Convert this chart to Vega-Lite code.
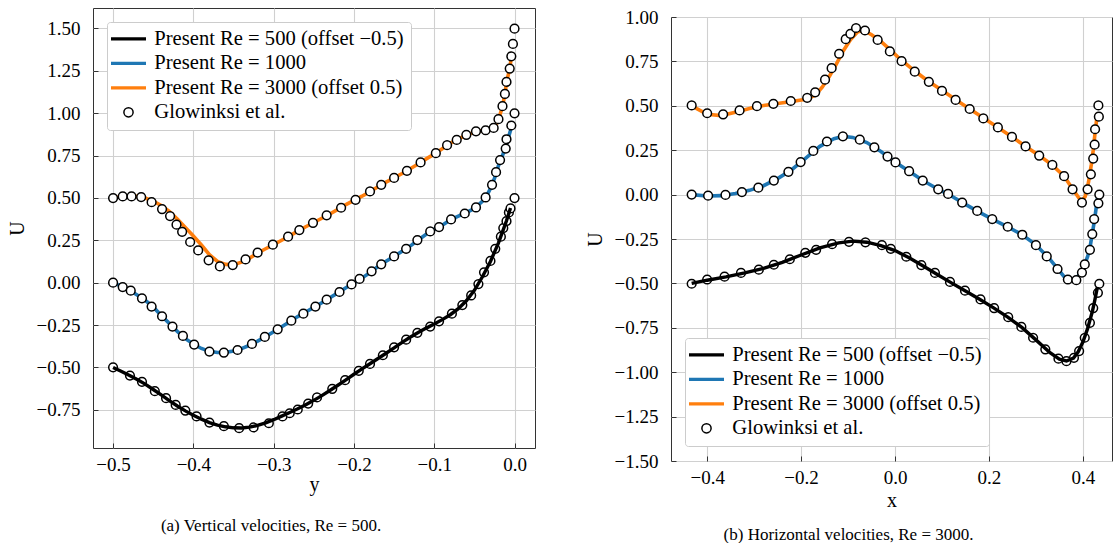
{
"$schema":"https://vega.github.io/schema/vega-lite/v6.json",
"background":"white",
"padding":{"left":6,"top":7,"right":0,"bottom":0},
"spacing":48,
"datasets":{
"L":[
{"s":"A","x":-0.5,"u":-0.5},{"s":"A","x":-0.49,"u":-0.522},{"s":"A","x":-0.48,"u":-0.546},{"s":"A","x":-0.47,"u":-0.571},{"s":"A","x":-0.46,"u":-0.598},{"s":"A","x":-0.45,"u":-0.63},{"s":"A","x":-0.44,"u":-0.662},{"s":"A","x":-0.43,"u":-0.695},{"s":"A","x":-0.42,"u":-0.727},{"s":"A","x":-0.41,"u":-0.756},{"s":"A","x":-0.4,"u":-0.782},{"s":"A","x":-0.39,"u":-0.805},{"s":"A","x":-0.38,"u":-0.825},{"s":"A","x":-0.37,"u":-0.84},{"s":"A","x":-0.36,"u":-0.85},{"s":"A","x":-0.35,"u":-0.856},{"s":"A","x":-0.34,"u":-0.857},{"s":"A","x":-0.33,"u":-0.852},{"s":"A","x":-0.32,"u":-0.842},{"s":"A","x":-0.31,"u":-0.827},{"s":"A","x":-0.3,"u":-0.808},{"s":"A","x":-0.29,"u":-0.787},{"s":"A","x":-0.28,"u":-0.766},{"s":"A","x":-0.27,"u":-0.744},{"s":"A","x":-0.26,"u":-0.72},{"s":"A","x":-0.25,"u":-0.694},{"s":"A","x":-0.24,"u":-0.666},{"s":"A","x":-0.23,"u":-0.636},{"s":"A","x":-0.22,"u":-0.605},{"s":"A","x":-0.21,"u":-0.573},{"s":"A","x":-0.2,"u":-0.54},{"s":"A","x":-0.19,"u":-0.508},{"s":"A","x":-0.18,"u":-0.478},{"s":"A","x":-0.17,"u":-0.447},{"s":"A","x":-0.16,"u":-0.416},{"s":"A","x":-0.15,"u":-0.385},{"s":"A","x":-0.14,"u":-0.352},{"s":"A","x":-0.13,"u":-0.322},{"s":"A","x":-0.12,"u":-0.294},{"s":"A","x":-0.11,"u":-0.268},{"s":"A","x":-0.1,"u":-0.244},{"s":"A","x":-0.09,"u":-0.218},{"s":"A","x":-0.08,"u":-0.189},{"s":"A","x":-0.07,"u":-0.153},{"s":"A","x":-0.06,"u":-0.107},{"s":"A","x":-0.05,"u":-0.045},{"s":"A","x":-0.04,"u":0.035},{"s":"A","x":-0.03,"u":0.125},{"s":"A","x":-0.02,"u":0.235},{"s":"A","x":-0.015,"u":0.3},{"s":"A","x":-0.01,"u":0.365},{"s":"A","x":-0.005,"u":0.44},
{"s":"B","x":-0.5,"u":0.0},{"s":"B","x":-0.49,"u":-0.02},{"s":"B","x":-0.48,"u":-0.043},{"s":"B","x":-0.47,"u":-0.072},{"s":"B","x":-0.46,"u":-0.104},{"s":"B","x":-0.45,"u":-0.143},{"s":"B","x":-0.44,"u":-0.194},{"s":"B","x":-0.43,"u":-0.24},{"s":"B","x":-0.42,"u":-0.287},{"s":"B","x":-0.41,"u":-0.33},{"s":"B","x":-0.4,"u":-0.362},{"s":"B","x":-0.39,"u":-0.388},{"s":"B","x":-0.38,"u":-0.405},{"s":"B","x":-0.37,"u":-0.412},{"s":"B","x":-0.36,"u":-0.411},{"s":"B","x":-0.35,"u":-0.403},{"s":"B","x":-0.34,"u":-0.389},{"s":"B","x":-0.33,"u":-0.369},{"s":"B","x":-0.32,"u":-0.345},{"s":"B","x":-0.31,"u":-0.318},{"s":"B","x":-0.3,"u":-0.289},{"s":"B","x":-0.29,"u":-0.26},{"s":"B","x":-0.28,"u":-0.23},{"s":"B","x":-0.27,"u":-0.2},{"s":"B","x":-0.26,"u":-0.173},{"s":"B","x":-0.25,"u":-0.146},{"s":"B","x":-0.24,"u":-0.118},{"s":"B","x":-0.23,"u":-0.089},{"s":"B","x":-0.22,"u":-0.06},{"s":"B","x":-0.21,"u":-0.03},{"s":"B","x":-0.2,"u":-0.002},{"s":"B","x":-0.19,"u":0.027},{"s":"B","x":-0.18,"u":0.06},{"s":"B","x":-0.17,"u":0.095},{"s":"B","x":-0.16,"u":0.126},{"s":"B","x":-0.15,"u":0.155},{"s":"B","x":-0.14,"u":0.185},{"s":"B","x":-0.13,"u":0.216},{"s":"B","x":-0.12,"u":0.252},{"s":"B","x":-0.11,"u":0.286},{"s":"B","x":-0.1,"u":0.315},{"s":"B","x":-0.09,"u":0.339},{"s":"B","x":-0.08,"u":0.37},{"s":"B","x":-0.07,"u":0.392},{"s":"B","x":-0.06,"u":0.413},{"s":"B","x":-0.05,"u":0.438},{"s":"B","x":-0.04,"u":0.48},{"s":"B","x":-0.035,"u":0.51},{"s":"B","x":-0.03,"u":0.555},{"s":"B","x":-0.025,"u":0.615},{"s":"B","x":-0.02,"u":0.69},{"s":"B","x":-0.015,"u":0.75},{"s":"B","x":-0.011,"u":0.8},{"s":"B","x":-0.008,"u":0.85},{"s":"B","x":-0.003,"u":0.93},
{"s":"C","x":-0.5,"u":0.5},{"s":"C","x":-0.49,"u":0.507},{"s":"C","x":-0.48,"u":0.511},{"s":"C","x":-0.47,"u":0.509},{"s":"C","x":-0.46,"u":0.499},{"s":"C","x":-0.45,"u":0.481},{"s":"C","x":-0.44,"u":0.455},{"s":"C","x":-0.43,"u":0.42},{"s":"C","x":-0.42,"u":0.375},{"s":"C","x":-0.41,"u":0.326},{"s":"C","x":-0.4,"u":0.275},{"s":"C","x":-0.39,"u":0.222},{"s":"C","x":-0.38,"u":0.165},{"s":"C","x":-0.37,"u":0.125},{"s":"C","x":-0.36,"u":0.108},{"s":"C","x":-0.35,"u":0.106},{"s":"C","x":-0.34,"u":0.121},{"s":"C","x":-0.33,"u":0.145},{"s":"C","x":-0.32,"u":0.175},{"s":"C","x":-0.31,"u":0.2},{"s":"C","x":-0.3,"u":0.224},{"s":"C","x":-0.29,"u":0.25},{"s":"C","x":-0.28,"u":0.276},{"s":"C","x":-0.27,"u":0.304},{"s":"C","x":-0.26,"u":0.33},{"s":"C","x":-0.25,"u":0.355},{"s":"C","x":-0.24,"u":0.38},{"s":"C","x":-0.23,"u":0.405},{"s":"C","x":-0.22,"u":0.432},{"s":"C","x":-0.21,"u":0.46},{"s":"C","x":-0.2,"u":0.485},{"s":"C","x":-0.19,"u":0.51},{"s":"C","x":-0.18,"u":0.537},{"s":"C","x":-0.17,"u":0.566},{"s":"C","x":-0.16,"u":0.593},{"s":"C","x":-0.15,"u":0.618},{"s":"C","x":-0.14,"u":0.644},{"s":"C","x":-0.13,"u":0.672},{"s":"C","x":-0.12,"u":0.7},{"s":"C","x":-0.11,"u":0.73},{"s":"C","x":-0.1,"u":0.758},{"s":"C","x":-0.09,"u":0.79},{"s":"C","x":-0.08,"u":0.822},{"s":"C","x":-0.07,"u":0.848},{"s":"C","x":-0.06,"u":0.87},{"s":"C","x":-0.05,"u":0.888},{"s":"C","x":-0.04,"u":0.898},{"s":"C","x":-0.03,"u":0.905},{"s":"C","x":-0.025,"u":0.915},{"s":"C","x":-0.02,"u":0.96},{"s":"C","x":-0.015,"u":1.04},{"s":"C","x":-0.012,"u":1.11},{"s":"C","x":-0.01,"u":1.18},{"s":"C","x":-0.006,"u":1.263},{"s":"C","x":-0.003,"u":1.36},
{"s":"G","x":-0.5,"u":0.499},{"s":"G","x":-0.488,"u":0.509},{"s":"G","x":-0.477,"u":0.509},{"s":"G","x":-0.465,"u":0.505},{"s":"G","x":-0.452,"u":0.475},{"s":"G","x":-0.439,"u":0.434},{"s":"G","x":-0.429,"u":0.393},{"s":"G","x":-0.421,"u":0.342},{"s":"G","x":-0.414,"u":0.3},{"s":"G","x":-0.404,"u":0.24},{"s":"G","x":-0.394,"u":0.19},{"s":"G","x":-0.381,"u":0.132},{"s":"G","x":-0.367,"u":0.096},{"s":"G","x":-0.351,"u":0.104},{"s":"G","x":-0.335,"u":0.137},{"s":"G","x":-0.32,"u":0.177},{"s":"G","x":-0.301,"u":0.224},{"s":"G","x":-0.282,"u":0.271},{"s":"G","x":-0.268,"u":0.31},{"s":"G","x":-0.251,"u":0.353},{"s":"G","x":-0.234,"u":0.397},{"s":"G","x":-0.216,"u":0.442},{"s":"G","x":-0.198,"u":0.489},{"s":"G","x":-0.18,"u":0.538},{"s":"G","x":-0.166,"u":0.577},{"s":"G","x":-0.15,"u":0.618},{"s":"G","x":-0.134,"u":0.66},{"s":"G","x":-0.117,"u":0.709},{"s":"G","x":-0.098,"u":0.764},{"s":"G","x":-0.084,"u":0.811},{"s":"G","x":-0.072,"u":0.842},{"s":"G","x":-0.06,"u":0.872},{"s":"G","x":-0.048,"u":0.893},{"s":"G","x":-0.036,"u":0.899},{"s":"G","x":-0.026,"u":0.913},{"s":"G","x":-0.02,"u":0.964},{"s":"G","x":-0.015,"u":1.041},{"s":"G","x":-0.012,"u":1.113},{"s":"G","x":-0.01,"u":1.184},{"s":"G","x":-0.006,"u":1.263},{"s":"G","x":-0.004,"u":1.335},{"s":"G","x":-0.002,"u":1.408},{"s":"G","x":0.0,"u":1.498},
{"s":"G","x":-0.5,"u":0.0},{"s":"G","x":-0.488,"u":-0.026},{"s":"G","x":-0.478,"u":-0.047},{"s":"G","x":-0.464,"u":-0.092},{"s":"G","x":-0.452,"u":-0.141},{"s":"G","x":-0.439,"u":-0.198},{"s":"G","x":-0.426,"u":-0.259},{"s":"G","x":-0.413,"u":-0.314},{"s":"G","x":-0.399,"u":-0.365},{"s":"G","x":-0.38,"u":-0.406},{"s":"G","x":-0.362,"u":-0.412},{"s":"G","x":-0.345,"u":-0.397},{"s":"G","x":-0.327,"u":-0.361},{"s":"G","x":-0.311,"u":-0.32},{"s":"G","x":-0.295,"u":-0.275},{"s":"G","x":-0.278,"u":-0.224},{"s":"G","x":-0.263,"u":-0.183},{"s":"G","x":-0.248,"u":-0.141},{"s":"G","x":-0.234,"u":-0.1},{"s":"G","x":-0.218,"u":-0.055},{"s":"G","x":-0.203,"u":-0.01},{"s":"G","x":-0.193,"u":0.022},{"s":"G","x":-0.178,"u":0.067},{"s":"G","x":-0.166,"u":0.108},{"s":"G","x":-0.15,"u":0.155},{"s":"G","x":-0.135,"u":0.2},{"s":"G","x":-0.121,"u":0.251},{"s":"G","x":-0.105,"u":0.302},{"s":"G","x":-0.094,"u":0.328},{"s":"G","x":-0.079,"u":0.373},{"s":"G","x":-0.062,"u":0.408},{"s":"G","x":-0.048,"u":0.444},{"s":"G","x":-0.036,"u":0.503},{"s":"G","x":-0.028,"u":0.577},{"s":"G","x":-0.023,"u":0.652},{"s":"G","x":-0.018,"u":0.723},{"s":"G","x":-0.011,"u":0.791},{"s":"G","x":-0.01,"u":0.846},{"s":"G","x":-0.004,"u":0.927},{"s":"G","x":0.0,"u":0.999},
{"s":"G","x":-0.5,"u":-0.499},{"s":"G","x":-0.479,"u":-0.548},{"s":"G","x":-0.464,"u":-0.585},{"s":"G","x":-0.448,"u":-0.64},{"s":"G","x":-0.434,"u":-0.681},{"s":"G","x":-0.422,"u":-0.721},{"s":"G","x":-0.41,"u":-0.754},{"s":"G","x":-0.396,"u":-0.789},{"s":"G","x":-0.38,"u":-0.825},{"s":"G","x":-0.362,"u":-0.846},{"s":"G","x":-0.343,"u":-0.858},{"s":"G","x":-0.325,"u":-0.854},{"s":"G","x":-0.306,"u":-0.829},{"s":"G","x":-0.289,"u":-0.789},{"s":"G","x":-0.28,"u":-0.77},{"s":"G","x":-0.27,"u":-0.748},{"s":"G","x":-0.257,"u":-0.713},{"s":"G","x":-0.246,"u":-0.677},{"s":"G","x":-0.227,"u":-0.626},{"s":"G","x":-0.211,"u":-0.575},{"s":"G","x":-0.194,"u":-0.52},{"s":"G","x":-0.18,"u":-0.479},{"s":"G","x":-0.164,"u":-0.428},{"s":"G","x":-0.15,"u":-0.381},{"s":"G","x":-0.135,"u":-0.336},{"s":"G","x":-0.121,"u":-0.296},{"s":"G","x":-0.105,"u":-0.259},{"s":"G","x":-0.094,"u":-0.228},{"s":"G","x":-0.078,"u":-0.183},{"s":"G","x":-0.065,"u":-0.132},{"s":"G","x":-0.054,"u":-0.075},{"s":"G","x":-0.045,"u":-0.008},{"s":"G","x":-0.038,"u":0.061},{"s":"G","x":-0.03,"u":0.128},{"s":"G","x":-0.024,"u":0.2},{"s":"G","x":-0.017,"u":0.271},{"s":"G","x":-0.014,"u":0.322},{"s":"G","x":-0.01,"u":0.363},{"s":"G","x":-0.007,"u":0.414},{"s":"G","x":-0.005,"u":0.438},{"s":"G","x":0.0,"u":0.499}
],
"R":[
{"s":"A","x":-0.433,"u":-0.5},{"s":"A","x":-0.4,"u":-0.482},{"s":"A","x":-0.36,"u":-0.463},{"s":"A","x":-0.32,"u":-0.441},{"s":"A","x":-0.28,"u":-0.416},{"s":"A","x":-0.24,"u":-0.382},{"s":"A","x":-0.2,"u":-0.34},{"s":"A","x":-0.16,"u":-0.3},{"s":"A","x":-0.12,"u":-0.272},{"s":"A","x":-0.09,"u":-0.262},{"s":"A","x":-0.06,"u":-0.268},{"s":"A","x":-0.03,"u":-0.287},{"s":"A","x":0.0,"u":-0.315},{"s":"A","x":0.03,"u":-0.356},{"s":"A","x":0.06,"u":-0.402},{"s":"A","x":0.09,"u":-0.45},{"s":"A","x":0.12,"u":-0.497},{"s":"A","x":0.15,"u":-0.543},{"s":"A","x":0.18,"u":-0.589},{"s":"A","x":0.21,"u":-0.638},{"s":"A","x":0.24,"u":-0.69},{"s":"A","x":0.27,"u":-0.748},{"s":"A","x":0.3,"u":-0.818},{"s":"A","x":0.33,"u":-0.89},{"s":"A","x":0.35,"u":-0.927},{"s":"A","x":0.365,"u":-0.937},{"s":"A","x":0.38,"u":-0.92},{"s":"A","x":0.39,"u":-0.885},{"s":"A","x":0.4,"u":-0.83},{"s":"A","x":0.41,"u":-0.755},{"s":"A","x":0.42,"u":-0.66},{"s":"A","x":0.425,"u":-0.6},{"s":"A","x":0.431,"u":-0.52},
{"s":"B","x":-0.433,"u":0.0},{"s":"B","x":-0.4,"u":-0.008},{"s":"B","x":-0.37,"u":-0.006},{"s":"B","x":-0.34,"u":0.006},{"s":"B","x":-0.31,"u":0.024},{"s":"B","x":-0.28,"u":0.05},{"s":"B","x":-0.25,"u":0.09},{"s":"B","x":-0.22,"u":0.14},{"s":"B","x":-0.19,"u":0.206},{"s":"B","x":-0.16,"u":0.272},{"s":"B","x":-0.13,"u":0.315},{"s":"B","x":-0.11,"u":0.328},{"s":"B","x":-0.09,"u":0.322},{"s":"B","x":-0.06,"u":0.293},{"s":"B","x":-0.03,"u":0.243},{"s":"B","x":0.0,"u":0.184},{"s":"B","x":0.03,"u":0.131},{"s":"B","x":0.06,"u":0.078},{"s":"B","x":0.09,"u":0.033},{"s":"B","x":0.12,"u":-0.008},{"s":"B","x":0.15,"u":-0.055},{"s":"B","x":0.18,"u":-0.1},{"s":"B","x":0.21,"u":-0.142},{"s":"B","x":0.24,"u":-0.182},{"s":"B","x":0.27,"u":-0.225},{"s":"B","x":0.3,"u":-0.283},{"s":"B","x":0.33,"u":-0.365},{"s":"B","x":0.35,"u":-0.43},{"s":"B","x":0.36,"u":-0.462},{"s":"B","x":0.37,"u":-0.48},{"s":"B","x":0.38,"u":-0.478},{"s":"B","x":0.39,"u":-0.458},{"s":"B","x":0.4,"u":-0.42},{"s":"B","x":0.41,"u":-0.35},{"s":"B","x":0.415,"u":-0.3},{"s":"B","x":0.42,"u":-0.22},{"s":"B","x":0.425,"u":-0.14},{"s":"B","x":0.431,"u":-0.02},
{"s":"C","x":-0.433,"u":0.5},{"s":"C","x":-0.4,"u":0.452},{"s":"C","x":-0.37,"u":0.445},{"s":"C","x":-0.34,"u":0.463},{"s":"C","x":-0.31,"u":0.485},{"s":"C","x":-0.28,"u":0.502},{"s":"C","x":-0.25,"u":0.513},{"s":"C","x":-0.22,"u":0.524},{"s":"C","x":-0.19,"u":0.537},{"s":"C","x":-0.17,"u":0.56},{"s":"C","x":-0.155,"u":0.605},{"s":"C","x":-0.14,"u":0.665},{"s":"C","x":-0.125,"u":0.735},{"s":"C","x":-0.11,"u":0.81},{"s":"C","x":-0.095,"u":0.872},{"s":"C","x":-0.08,"u":0.915},{"s":"C","x":-0.067,"u":0.926},{"s":"C","x":-0.05,"u":0.9},{"s":"C","x":-0.03,"u":0.862},{"s":"C","x":-0.01,"u":0.815},{"s":"C","x":0.01,"u":0.765},{"s":"C","x":0.04,"u":0.7},{"s":"C","x":0.07,"u":0.64},{"s":"C","x":0.1,"u":0.587},{"s":"C","x":0.13,"u":0.533},{"s":"C","x":0.16,"u":0.48},{"s":"C","x":0.19,"u":0.428},{"s":"C","x":0.22,"u":0.376},{"s":"C","x":0.25,"u":0.323},{"s":"C","x":0.28,"u":0.268},{"s":"C","x":0.31,"u":0.214},{"s":"C","x":0.335,"u":0.166},{"s":"C","x":0.36,"u":0.104},{"s":"C","x":0.38,"u":0.025},{"s":"C","x":0.397,"u":-0.04},{"s":"C","x":0.405,"u":-0.01},{"s":"C","x":0.412,"u":0.07},{"s":"C","x":0.418,"u":0.17},{"s":"C","x":0.422,"u":0.25},{"s":"C","x":0.426,"u":0.35},{"s":"C","x":0.431,"u":0.46},
{"s":"G","x":-0.433,"u":0.502},{"s":"G","x":-0.4,"u":0.458},{"s":"G","x":-0.366,"u":0.452},{"s":"G","x":-0.331,"u":0.474},{"s":"G","x":-0.294,"u":0.498},{"s":"G","x":-0.259,"u":0.511},{"s":"G","x":-0.222,"u":0.527},{"s":"G","x":-0.187,"u":0.545},{"s":"G","x":-0.17,"u":0.576},{"s":"G","x":-0.149,"u":0.647},{"s":"G","x":-0.135,"u":0.712},{"s":"G","x":-0.119,"u":0.793},{"s":"G","x":-0.105,"u":0.875},{"s":"G","x":-0.095,"u":0.905},{"s":"G","x":-0.083,"u":0.938},{"s":"G","x":-0.064,"u":0.924},{"s":"G","x":-0.037,"u":0.871},{"s":"G","x":-0.011,"u":0.806},{"s":"G","x":0.014,"u":0.751},{"s":"G","x":0.042,"u":0.692},{"s":"G","x":0.072,"u":0.635},{"s":"G","x":0.1,"u":0.584},{"s":"G","x":0.129,"u":0.533},{"s":"G","x":0.159,"u":0.482},{"s":"G","x":0.188,"u":0.429},{"s":"G","x":0.219,"u":0.378},{"s":"G","x":0.249,"u":0.325},{"s":"G","x":0.278,"u":0.271},{"s":"G","x":0.307,"u":0.22},{"s":"G","x":0.335,"u":0.167},{"s":"G","x":0.36,"u":0.104},{"s":"G","x":0.378,"u":0.03},{"s":"G","x":0.398,"u":-0.045},{"s":"G","x":0.41,"u":0.03},{"s":"G","x":0.417,"u":0.114},{"s":"G","x":0.422,"u":0.203},{"s":"G","x":0.425,"u":0.281},{"s":"G","x":0.426,"u":0.368},{"s":"G","x":0.434,"u":0.439},{"s":"G","x":0.433,"u":0.502},
{"s":"G","x":-0.433,"u":0.0},{"s":"G","x":-0.398,"u":-0.006},{"s":"G","x":-0.361,"u":-0.002},{"s":"G","x":-0.326,"u":0.014},{"s":"G","x":-0.291,"u":0.039},{"s":"G","x":-0.258,"u":0.079},{"s":"G","x":-0.227,"u":0.128},{"s":"G","x":-0.201,"u":0.183},{"s":"G","x":-0.174,"u":0.246},{"s":"G","x":-0.145,"u":0.299},{"s":"G","x":-0.111,"u":0.328},{"s":"G","x":-0.075,"u":0.309},{"s":"G","x":-0.044,"u":0.266},{"s":"G","x":-0.016,"u":0.214},{"s":"G","x":0.001,"u":0.181},{"s":"G","x":0.03,"u":0.132},{"s":"G","x":0.059,"u":0.079},{"s":"G","x":0.092,"u":0.03},{"s":"G","x":0.113,"u":0.004},{"s":"G","x":0.143,"u":-0.045},{"s":"G","x":0.175,"u":-0.092},{"s":"G","x":0.207,"u":-0.138},{"s":"G","x":0.24,"u":-0.181},{"s":"G","x":0.271,"u":-0.226},{"s":"G","x":0.3,"u":-0.285},{"s":"G","x":0.323,"u":-0.348},{"s":"G","x":0.346,"u":-0.419},{"s":"G","x":0.368,"u":-0.478},{"s":"G","x":0.386,"u":-0.482},{"s":"G","x":0.398,"u":-0.439},{"s":"G","x":0.404,"u":-0.393},{"s":"G","x":0.415,"u":-0.311},{"s":"G","x":0.42,"u":-0.222},{"s":"G","x":0.424,"u":-0.138},{"s":"G","x":0.433,"u":-0.049},{"s":"G","x":0.435,"u":0.0},
{"s":"G","x":-0.433,"u":-0.502},{"s":"G","x":-0.4,"u":-0.478},{"s":"G","x":-0.363,"u":-0.462},{"s":"G","x":-0.328,"u":-0.441},{"s":"G","x":-0.29,"u":-0.423},{"s":"G","x":-0.258,"u":-0.395},{"s":"G","x":-0.224,"u":-0.364},{"s":"G","x":-0.191,"u":-0.328},{"s":"G","x":-0.168,"u":-0.311},{"s":"G","x":-0.134,"u":-0.279},{"s":"G","x":-0.098,"u":-0.266},{"s":"G","x":-0.063,"u":-0.269},{"s":"G","x":-0.028,"u":-0.285},{"s":"G","x":-0.009,"u":-0.305},{"s":"G","x":0.024,"u":-0.35},{"s":"G","x":0.056,"u":-0.397},{"s":"G","x":0.085,"u":-0.441},{"s":"G","x":0.117,"u":-0.492},{"s":"G","x":0.149,"u":-0.541},{"s":"G","x":0.182,"u":-0.59},{"s":"G","x":0.211,"u":-0.639},{"s":"G","x":0.241,"u":-0.69},{"s":"G","x":0.269,"u":-0.745},{"s":"G","x":0.294,"u":-0.806},{"s":"G","x":0.32,"u":-0.871},{"s":"G","x":0.348,"u":-0.924},{"s":"G","x":0.365,"u":-0.938},{"s":"G","x":0.381,"u":-0.919},{"s":"G","x":0.392,"u":-0.881},{"s":"G","x":0.404,"u":-0.806},{"s":"G","x":0.415,"u":-0.722},{"s":"G","x":0.422,"u":-0.639},{"s":"G","x":0.432,"u":-0.553},{"s":"G","x":0.435,"u":-0.502}
]
},
"hconcat":[
{
"width":442,"height":440,
"data":{"name":"L"},
"title":{"text":"(a) Vertical velocities, Re = 500.","orient":"bottom","frame":"bounds","anchor":"middle","offset":24},
"encoding":{
"x":{"field":"x","type":"quantitative","scale":{"domain":[-0.525,0.0255],"nice":false,"zero":false},"axis":{"values":[-0.5,-0.4,-0.3,-0.2,-0.1,0.0],"format":".1f","title":"y","titlePadding":0,"labelFont":"Liberation Serif"}},
"y":{"field":"u","type":"quantitative","scale":{"domain":[-0.975,1.62],"nice":false,"zero":false},"axis":{"values":[-0.75,-0.5,-0.25,0,0.25,0.5,0.75,1.0,1.25,1.5],"format":".2f","title":"U","labelFont":"Liberation Serif"}}
},
"layer":[
{"transform":[{"filter":{"field":"s","oneOf":["B","C"]}}],"mark":{"type":"line","strokeWidth":3.6},
"encoding":{"color":{"field":"s","type":"nominal","scale":{"domain":["A","B","C","G"],"range":["#000000","#1f77b4","#ff7f0e","#000000"]},"legend":{"orient":"none","legendX":14,"legendY":14,"labelExpr":"datum.value == 'A' ? 'Present Re = 500 (offset −0.5)' : datum.value == 'B' ? 'Present Re = 1000' : datum.value == 'C' ? 'Present Re = 3000 (offset 0.5)' : 'Glowinksi et al.'","encode":{"symbols":{"update":{"size":{"signal":"datum.value == 'G' ? 85 : 1225"},"strokeWidth":{"signal":"datum.value == 'G' ? 1.5 : 3.2"}}}}}}}},
{"transform":[{"filter":{"field":"s","equal":"G"}}],"mark":{"type":"point","filled":false,"fill":"white","size":76,"strokeWidth":1.5,"opacity":1},
"encoding":{"color":{"field":"s","type":"nominal","scale":{"domain":["A","B","C","G"],"range":["#000000","#1f77b4","#ff7f0e","#000000"]},"legend":{"orient":"none","legendX":14,"legendY":14,"labelExpr":"datum.value == 'A' ? 'Present Re = 500 (offset −0.5)' : datum.value == 'B' ? 'Present Re = 1000' : datum.value == 'C' ? 'Present Re = 3000 (offset 0.5)' : 'Glowinksi et al.'","encode":{"symbols":{"update":{"size":{"signal":"datum.value == 'G' ? 85 : 1225"},"strokeWidth":{"signal":"datum.value == 'G' ? 1.5 : 3.2"}}}}}},
"shape":{"field":"s","type":"nominal","scale":{"domain":["A","B","C","G"],"range":["stroke","stroke","stroke","circle"]},"legend":{"orient":"none","legendX":14,"legendY":14,"labelExpr":"datum.value == 'A' ? 'Present Re = 500 (offset −0.5)' : datum.value == 'B' ? 'Present Re = 1000' : datum.value == 'C' ? 'Present Re = 3000 (offset 0.5)' : 'Glowinksi et al.'","encode":{"symbols":{"update":{"size":{"signal":"datum.value == 'G' ? 85 : 1225"},"strokeWidth":{"signal":"datum.value == 'G' ? 1.5 : 3.2"}}}}}}}},
{"transform":[{"filter":{"field":"s","equal":"A"}}],"mark":{"type":"line","strokeWidth":3.4},
"encoding":{"color":{"field":"s","type":"nominal","scale":{"domain":["A","B","C","G"],"range":["#000000","#1f77b4","#ff7f0e","#000000"]},"legend":{"orient":"none","legendX":14,"legendY":14,"labelExpr":"datum.value == 'A' ? 'Present Re = 500 (offset −0.5)' : datum.value == 'B' ? 'Present Re = 1000' : datum.value == 'C' ? 'Present Re = 3000 (offset 0.5)' : 'Glowinksi et al.'","encode":{"symbols":{"update":{"size":{"signal":"datum.value == 'G' ? 85 : 1225"},"strokeWidth":{"signal":"datum.value == 'G' ? 1.5 : 3.2"}}}}}}}}
]
},
{
"spacing":-2,
"resolve":{"scale":{"color":"independent","shape":"independent"}},
"vconcat":[
{"width":1,"height":1,"view":{"stroke":null},"data":{"values":[{}]},"mark":{"type":"point","opacity":0,"size":0,"strokeWidth":0}},
{
"width":441,"height":444,
"data":{"name":"R"},
"title":{"text":"(b) Horizontal velocities, Re = 3000.","orient":"bottom","frame":"bounds","anchor":"middle","offset":17},
"encoding":{
"x":{"field":"x","type":"quantitative","scale":{"domain":[-0.477,0.462],"nice":false,"zero":false},"axis":{"values":[-0.4,-0.2,0.0,0.2,0.4],"format":".1f","title":"x","titlePadding":3,"labelFont":"Liberation Serif"}},
"y":{"field":"u","type":"quantitative","scale":{"domain":[-1.5,1.0],"nice":false,"zero":false},"axis":{"values":[-1.5,-1.25,-1.0,-0.75,-0.5,-0.25,0,0.25,0.5,0.75,1.0],"format":".2f","title":"U","labelFont":"Liberation Serif"}}
},
"layer":[
{"transform":[{"filter":{"field":"s","oneOf":["B","C"]}}],"mark":{"type":"line","strokeWidth":3.6},
"encoding":{"color":{"field":"s","type":"nominal","scale":{"domain":["A","B","C","G"],"range":["#000000","#1f77b4","#ff7f0e","#000000"]},"legend":{"orient":"none","legendX":14,"legendY":321,"labelExpr":"datum.value == 'A' ? 'Present Re = 500 (offset −0.5)' : datum.value == 'B' ? 'Present Re = 1000' : datum.value == 'C' ? 'Present Re = 3000 (offset 0.5)' : 'Glowinksi et al.'","encode":{"symbols":{"update":{"size":{"signal":"datum.value == 'G' ? 85 : 1225"},"strokeWidth":{"signal":"datum.value == 'G' ? 1.5 : 3.2"}}}}}}}},
{"transform":[{"filter":{"field":"s","equal":"G"}}],"mark":{"type":"point","filled":false,"fill":"white","size":76,"strokeWidth":1.5,"opacity":1},
"encoding":{"color":{"field":"s","type":"nominal","scale":{"domain":["A","B","C","G"],"range":["#000000","#1f77b4","#ff7f0e","#000000"]},"legend":{"orient":"none","legendX":14,"legendY":321,"labelExpr":"datum.value == 'A' ? 'Present Re = 500 (offset −0.5)' : datum.value == 'B' ? 'Present Re = 1000' : datum.value == 'C' ? 'Present Re = 3000 (offset 0.5)' : 'Glowinksi et al.'","encode":{"symbols":{"update":{"size":{"signal":"datum.value == 'G' ? 85 : 1225"},"strokeWidth":{"signal":"datum.value == 'G' ? 1.5 : 3.2"}}}}}},
"shape":{"field":"s","type":"nominal","scale":{"domain":["A","B","C","G"],"range":["stroke","stroke","stroke","circle"]},"legend":{"orient":"none","legendX":14,"legendY":321,"labelExpr":"datum.value == 'A' ? 'Present Re = 500 (offset −0.5)' : datum.value == 'B' ? 'Present Re = 1000' : datum.value == 'C' ? 'Present Re = 3000 (offset 0.5)' : 'Glowinksi et al.'","encode":{"symbols":{"update":{"size":{"signal":"datum.value == 'G' ? 85 : 1225"},"strokeWidth":{"signal":"datum.value == 'G' ? 1.5 : 3.2"}}}}}}}},
{"transform":[{"filter":{"field":"s","equal":"A"}}],"mark":{"type":"line","strokeWidth":3.4},
"encoding":{"color":{"field":"s","type":"nominal","scale":{"domain":["A","B","C","G"],"range":["#000000","#1f77b4","#ff7f0e","#000000"]},"legend":{"orient":"none","legendX":14,"legendY":321,"labelExpr":"datum.value == 'A' ? 'Present Re = 500 (offset −0.5)' : datum.value == 'B' ? 'Present Re = 1000' : datum.value == 'C' ? 'Present Re = 3000 (offset 0.5)' : 'Glowinksi et al.'","encode":{"symbols":{"update":{"size":{"signal":"datum.value == 'G' ? 85 : 1225"},"strokeWidth":{"signal":"datum.value == 'G' ? 1.5 : 3.2"}}}}}}}}
]
}
]
}
],
"resolve":{"scale":{"color":"independent","shape":"independent"}},
"config":{
"font":"Liberation Serif",
"view":{"stroke":"#333333","strokeWidth":1},
"style":{"guide-label":{"font":"Liberation Serif"},"guide-title":{"font":"Liberation Serif"},"group-title":{"font":"Liberation Serif"}},
"axis":{"labelFont":"Liberation Serif","labelFontSize":19,"labelColor":"#000000","titleFont":"Liberation Serif","titleFontSize":20,"titleFontWeight":"normal","titleColor":"#000000","gridColor":"#d0d0d0","gridWidth":1.1,"domain":false,"tickColor":"#333333","tickSize":-5,"tickWidth":1,"labelFlush":false,"labelPadding":12},
"axisY":{"titlePadding":9,"labelPadding":18},
"legend":{"title":null,"padding":6.5,"rowPadding":3.5,"labelFont":"Liberation Serif","labelFontSize":20.6,"labelColor":"#000000","labelOffset":15.5,"symbolOffset":4.7,"fillColor":"#ffffff","strokeColor":"#cccccc","cornerRadius":3,"labelLimit":0},
"title":{"font":"Liberation Serif","fontSize":17,"fontWeight":"normal","color":"#000000"}
}
}
